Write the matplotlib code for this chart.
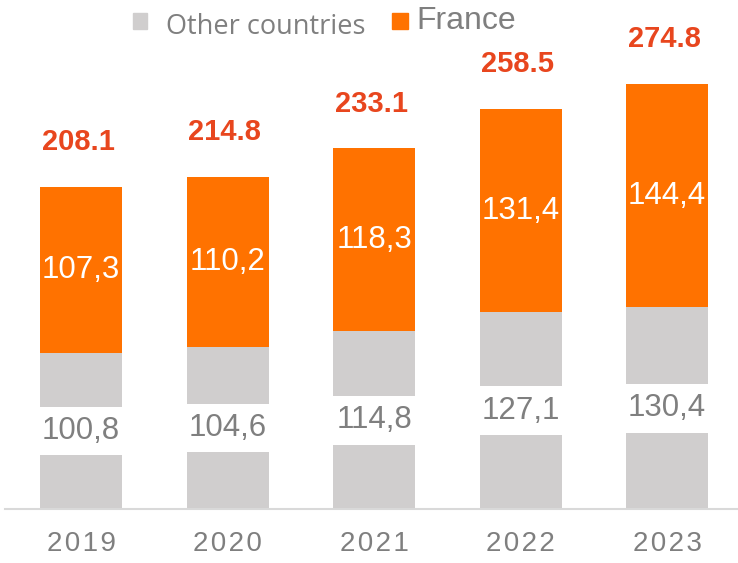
import matplotlib
matplotlib.use("Agg")
import matplotlib.pyplot as plt
from matplotlib.patches import Rectangle

years = ["2019", "2020", "2021", "2022", "2023"]
other = [100.8, 104.6, 114.8, 127.1, 130.4]
france = [107.3, 110.2, 118.3, 131.4, 144.4]
totals = [208.1, 214.8, 233.1, 258.5, 274.8]
other_labels = ["100,8", "104,6", "114,8", "127,1", "130,4"]
france_labels = ["107,3", "110,2", "118,3", "131,4", "144,4"]
total_labels = ["208.1", "214.8", "233.1", "258.5", "274.8"]

GRAY = "#D0CECE"
ORANGE = "#FF7200"
RED = "#E8461E"
TXT = "#7F7F7F"
NUM = ["Liberation Sans", "DejaVu Sans"]

fig = plt.figure(figsize=(7.38, 5.63), dpi=100)
ax = fig.add_axes([5 / 738, 54 / 563, 733 / 738, 509 / 563])
x = list(range(len(years)))
w = 0.56
ax.bar(x, other, width=w, color=GRAY, zorder=2)
ax.bar(x, france, width=w, bottom=other, color=ORANGE, zorder=2)
ax.set_xlim(-0.519, 4.484)
ax.set_ylim(0, 329)

for i in x:
    ax.text(i, other[i] / 2, other_labels[i], ha="center", va="center",
            fontsize=22.5, color=TXT, family=NUM, zorder=3,
            bbox=dict(facecolor="white", edgecolor="none",
                      boxstyle="square,pad=0.3"))
    ax.text(i, other[i] + france[i] / 2, france_labels[i], ha="center",
            va="center", fontsize=22.5, color="white", family=NUM, zorder=3)
    ax.text(i - 0.02, totals[i] + 29, total_labels[i], ha="center", va="center",
            fontsize=21, color=RED, family=NUM, fontweight="bold", zorder=3)

for s in ["top", "right", "left"]:
    ax.spines[s].set_visible(False)
ax.spines["bottom"].set_color("#D9D9D9")
ax.spines["bottom"].set_linewidth(1.5)
ax.set_yticks([])
ax.set_xticks(x)
ax.set_xticklabels(["\u200a".join(y) for y in years], fontsize=20, color=TXT,
                   family=NUM)
ax.tick_params(axis="x", length=0, pad=16)

# legend
fig.patches.append(Rectangle((133 / 738, 1 - 29 / 563), 14 / 738, 16 / 563,
                             transform=fig.transFigure, color=GRAY))
fig.text(166 / 738, 1 - 27 / 563, "Other countries", fontsize=19.5,
         color=TXT, family=["Open Sans", "DejaVu Sans"], va="center", ha="left")
fig.patches.append(Rectangle((392 / 738, 1 - 29 / 563), 16 / 738, 16 / 563,
                             transform=fig.transFigure, color=ORANGE))
fig.text(416 / 738, 1 - 21 / 563, "France", fontsize=23, color=TXT,
         family=NUM, va="center", ha="left")

fig.savefig("out.png", dpi=100)
